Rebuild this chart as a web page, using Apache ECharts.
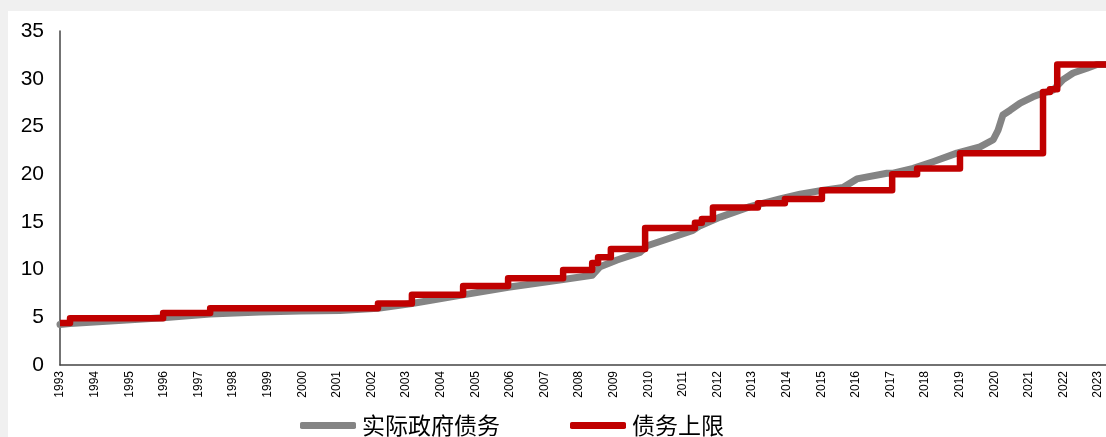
<!DOCTYPE html>
<html>
<head>
<meta charset="utf-8">
<script src="https://cdn.jsdelivr.net/npm/echarts@6/dist/echarts.min.js"></script>
<style>
html,body{margin:0;padding:0;background:#f0f0f0;width:1106px;height:437px;overflow:hidden;}
#c{position:absolute;left:8px;top:11px;width:1098px;height:426px;background:#fff;}
</style>
</head>
<body>
<div id="c"></div>
<script>
// Series names
const seriesNames = ['实际政府债务', '债务上限'];
// Y axis ticks
const yTicks = [0, 5, 10, 15, 20, 25, 30, 35];
// X axis year range
const yearMin = 1993, yearMax = 2023.23;

// 实际政府债务 (actual debt, trillion USD): time (fractional year) and value
const debtT = [1993.0, 1993.29, 1995.98, 1997.34, 1998.78, 1999.94, 2001.09, 2002.19, 2003.17, 2004.65, 2005.95, 2007.54, 2008.38, 2008.61, 2009.1, 2009.76, 2009.97, 2011.29, 2011.5, 2012.08, 2012.94, 2013.81, 2014.39, 2015.02, 2015.63, 2016.03, 2016.9, 2017.08, 2017.66, 2018.23, 2018.92, 2019.59, 2019.97, 2020.11, 2020.25, 2020.46, 2020.75, 2021.12, 2021.41, 2021.7, 2021.99, 2022.28, 2022.68, 2022.97, 2023.23];
const debtV = [4.25, 4.35, 4.95, 5.35, 5.55, 5.65, 5.7, 5.95, 6.45, 7.35, 8.15, 8.95, 9.4, 10.3, 11.0, 11.8, 12.5, 14.1, 14.6, 15.5, 16.6, 17.4, 17.9, 18.3, 18.6, 19.5, 20.1, 20.1, 20.6, 21.3, 22.2, 22.85, 23.6, 24.6, 26.2, 26.7, 27.45, 28.1, 28.5, 28.8, 29.9, 30.6, 31.1, 31.5, 31.5];

// 债务上限 (debt ceiling): change time and new value
const limitT = [1993.0, 1993.29, 1995.98, 1997.34, 2002.19, 2003.17, 2004.65, 2005.95, 2007.54, 2008.38, 2008.55, 2008.92, 2009.91, 2011.35, 2011.55, 2011.87, 2013.17, 2013.95, 2015.02, 2017.05, 2017.77, 2019.01, 2021.41, 2021.61, 2021.82, 2023.23];
const limitV = [4.4, 4.9, 5.45, 5.95, 6.45, 7.35, 8.28, 9.1, 9.95, 10.7, 11.3, 12.15, 14.35, 14.9, 15.3, 16.5, 16.95, 17.4, 18.3, 20.0, 20.6, 22.2, 28.6, 28.9, 31.5, 31.5];

const debtData = debtT.map((t, i) => [t, debtV[i]]);
const limitData = limitT.map((t, i) => [t, limitV[i]]);

const chart = echarts.init(document.getElementById('c'));
chart.setOption({
  backgroundColor: '#fff',
  animation: false,
  grid: {left: 52, right: 0, top: 20, bottom: 72, containLabel: false},
  legend: {
    bottom: 0,
    left: 292,
    padding: 0,
    itemWidth: 56,
    itemHeight: 7,
    itemGap: 70,
    icon: 'roundRect',
    textStyle: {fontSize: 23, color: '#000', fontFamily: '"Noto Sans CJK SC"', padding: [0, 0, 0, 1]},
    data: seriesNames
  },
  xAxis: {
    type: 'value',
    min: yearMin,
    max: yearMax,
    interval: 1,
    splitLine: {show: false},
    axisTick: {show: false},
    axisLine: {show: true, onZero: false, lineStyle: {color: '#444', width: 1.5}},
    axisLabel: {
      rotate: 90,
      fontSize: 12,
      color: '#000',
      fontFamily: '"Liberation Sans", Arial',
      margin: 6,
      showMaxLabel: false,
      formatter: v => Number.isInteger(v) ? String(v) : ''
    }
  },
  yAxis: {
    type: 'value',
    min: yTicks[0],
    max: yTicks[yTicks.length - 1],
    interval: 5,
    splitLine: {show: false},
    axisTick: {show: false},
    axisLine: {show: true, lineStyle: {color: '#444', width: 1.5}},
    axisLabel: {fontSize: 21, color: '#000', fontFamily: '"Liberation Sans", Arial', margin: 16}
  },
  series: [
    {
      name: seriesNames[0],
      type: 'line',
      data: debtData,
      showSymbol: false,
      symbol: 'none',
      lineStyle: {color: '#848484', width: 7, cap: 'round', join: 'round'},
      itemStyle: {color: '#848484'},
      z: 2
    },
    {
      name: seriesNames[1],
      type: 'line',
      step: 'end',
      data: limitData,
      showSymbol: false,
      symbol: 'none',
      lineStyle: {color: '#C00000', width: 6.5, join: 'round'},
      itemStyle: {color: '#C00000'},
      z: 3
    }
  ]
});
</script>
</body>
</html>
